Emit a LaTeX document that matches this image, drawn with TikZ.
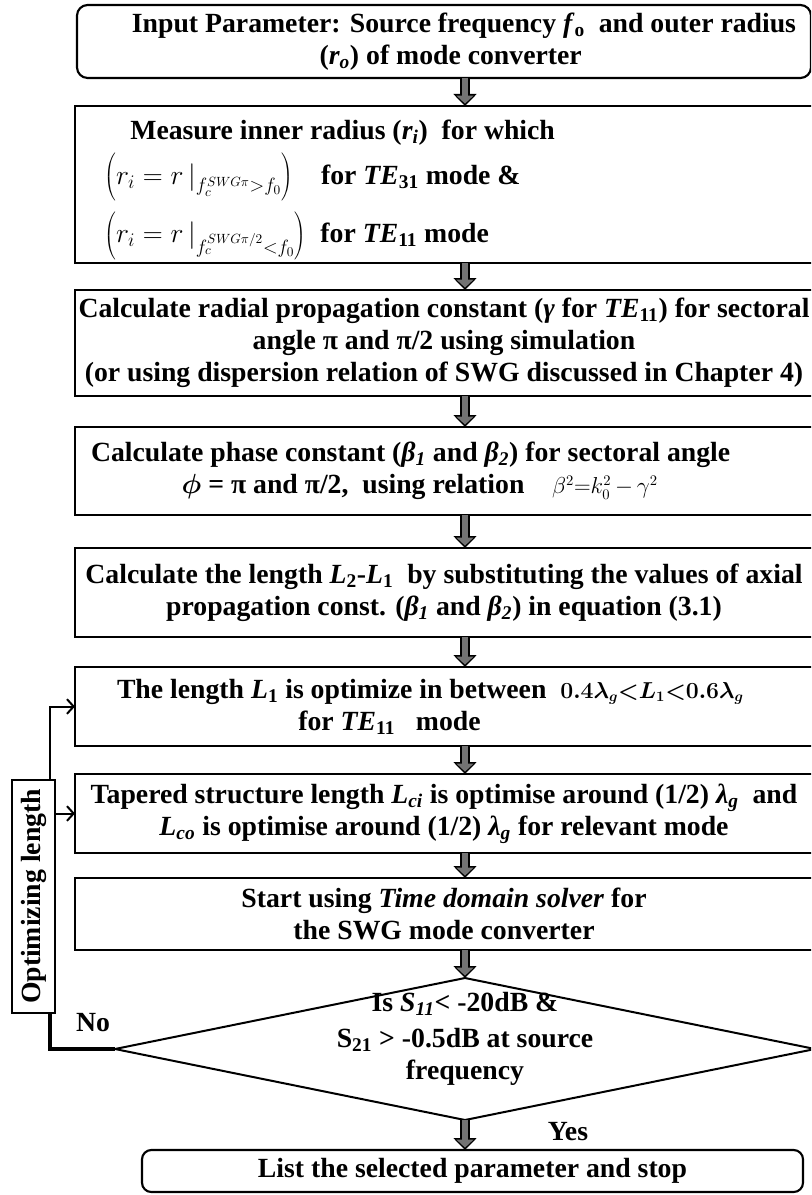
\documentclass[tikz,border=0pt]{standalone}
\usepackage{fontspec}
\setmainfont{Liberation Serif}
\usetikzlibrary{arrows.meta, positioning, shapes.geometric}

\newcommand{\flowfont}{\fontsize{20.8}{24}\selectfont\bfseries}
\newcommand{\mathsmall}{\fontsize{16}{20}\selectfont}

\begin{document}
\begin{tikzpicture}[
    x=0.75pt, y=-0.75pt,
    node distance=21pt,
    box/.style={rectangle, draw, line width=2pt, outer sep=0pt, minimum width=553.5pt, inner xsep=2pt, inner ysep=0pt, align=center, font=\flowfont},
    startbox/.style={box, rounded corners=8pt, line width=1.6pt, minimum width=550.5pt},
    stopbox/.style={box, rounded corners=7pt, line width=1.6pt, minimum width=495.75pt, minimum height=31.5pt},
    decision/.style={diamond, draw, line width=1.5pt, outer sep=0pt, aspect=4.9, inner sep=-8pt, minimum width=525pt, minimum height=106.5pt, align=center, font=\flowfont},
    sidebox/.style={rectangle, draw, line width=1.6pt, outer sep=0pt, minimum width=32.25pt, minimum height=174.75pt, inner sep=0pt, font=\flowfont},
    flowarrow/.style={draw=black!55, line width=4pt, shorten >=1.8pt, -{Triangle[length=6pt, width=12.5pt]},
        preaction={draw=black, line width=7pt, shorten >=0pt, -{Triangle[length=9pt, width=17pt]}}},
    feedback/.style={line width=1.5pt, -{Straight Barb[length=5pt, width=11pt, line width=1.5pt]}},
    answer/.style={font=\flowfont}
]
\useasboundingbox (0,0) rectangle (811,1195);
\clip (0,0) rectangle (811,1195);

% guide columns
\coordinate (spine) at (465,0);
\coordinate (fbx) at (50,0);

% Main column
\node[startbox, minimum height=54.75pt] (input) at (444,41.5)
    {\hspace*{30pt}Input Parameter: Source frequency \textit{f}\textsubscript{o}~ and outer radius\\
     \hspace*{10pt}(\textit{r\textsubscript{o}}) of mode converter};
\node[box, below=21pt of input, minimum height=117.75pt, align=flush left, text width=509.5pt, inner xsep=22pt] (radius)
    {\rule{0pt}{22.5pt}\hspace*{19.5pt}Measure inner radius (\textit{r\textsubscript{i}})~ for which\\[5pt]
     $\left(\rule[-12pt]{0pt}{32pt}r_i = r\,\big|_{f_c^{SWG\pi}>f_0}\right)$\quad for \textit{TE}\textsubscript{31} mode \&\\[7pt]
     $\left(\rule[-12pt]{0pt}{32pt}r_i = r\,\big|_{f_c^{SWG\pi/2}<f_0}\right)$~ for \textit{TE}\textsubscript{11} mode};
\node[box, below=20.25pt of radius, minimum height=79.5pt] (gamma)
    {Calculate radial propagation constant (\textit{γ} for \textit{TE}\textsubscript{11}) for sectoral\\
     angle π and π/2 using simulation\\
     (or using dispersion relation of SWG discussed in Chapter 4)};
\node[box, below=23.25pt of gamma, minimum height=66pt, align=flush left, text width=529.5pt, inner xsep=12pt] (beta)
    {Calculate phase constant (\textit{β\textsubscript{1}} and \textit{β\textsubscript{2}}) for sectoral angle\\
     \hspace*{68pt}{\boldmath$\phi$} = π and π/2,~ using relation\quad{\mathsmall$\beta^{2}{=}k_{0}^{2}\,{-}\,\gamma^{2}$}};
\node[box, below=24.75pt of beta, minimum height=66.75pt] (lendiff)
    {Calculate the length \textit{L}\textsubscript{2}-\textit{L}\textsubscript{1}~ by substituting the values of axial\\
     propagation const. (\textit{β\textsubscript{1}} and \textit{β\textsubscript{2}}) in equation (3.1)};
\node[box, below=22.5pt of lendiff, minimum height=59.25pt, align=flush left, text width=490.5pt, inner xsep=31.5pt] (lone)
    {The length \textit{L}\textsubscript{1} is optimize in between~ {\mathsmall\boldmath$0.4\lambda_g{<}L_1{<}0.6\lambda_g$}\\
     \hspace*{136pt}for \textit{TE}\textsubscript{11}~~ mode};
\node[box, below=21pt of lone, minimum height=59.25pt] (taper)
    {Tapered structure length \textit{L\textsubscript{ci}} is optimise around (1/2) \textit{λ\textsubscript{g}}~ and\\
     \textit{L\textsubscript{co}} is optimise around (1/2) \textit{λ\textsubscript{g}} for relevant mode};
\node[box, below=18.75pt of taper, minimum height=54pt] (solver)
    {Start using \textit{Time domain solver} for\\ the SWG mode converter};
\node[decision] (check) at (465,1049)
    {Is \textit{S\textsubscript{11}}< -20dB \&\\[3pt] S\textsubscript{21} > -0.5dB at source\\ frequency\rule[-20pt]{0pt}{1pt}};
\node[stopbox] (stop) at (472.5,1171) {List the selected parameter and stop};

% Optimizing loop
\node[sidebox] (optim) at (33.5,896.5) {\rotatebox{90}{Optimizing length}};

% Arrows down the column
\draw[flowarrow] (input.south -| spine) -- (radius.north -| spine);
\draw[flowarrow] (radius.south -| spine) -- (gamma.north -| spine);
\draw[flowarrow] (gamma.south -| spine) -- (beta.north -| spine);
\draw[flowarrow] (beta.south -| spine) -- (lendiff.north -| spine);
\draw[flowarrow] (lendiff.south -| spine) -- (lone.north -| spine);
\draw[flowarrow] (lone.south -| spine) -- (taper.north -| spine);
\draw[flowarrow] (taper.south -| spine) -- (solver.north -| spine);
\draw[flowarrow] (solver.south -| spine) -- (check.north);
\draw[flowarrow] (check.south) -- (stop.north -| spine);

% Feedback path
\draw[line width=3pt] (optim.south -| fbx) |- (check.west);
\draw[feedback] (optim.north -| fbx) |- (lone.west);
\draw[feedback] (optim.east |- taper.west) -- (taper.west);

% Labels
\node[answer] (no) at (93,1023) {No};
\node[answer] (yes) at (568,1132) {Yes};

\end{tikzpicture}
\end{document}
